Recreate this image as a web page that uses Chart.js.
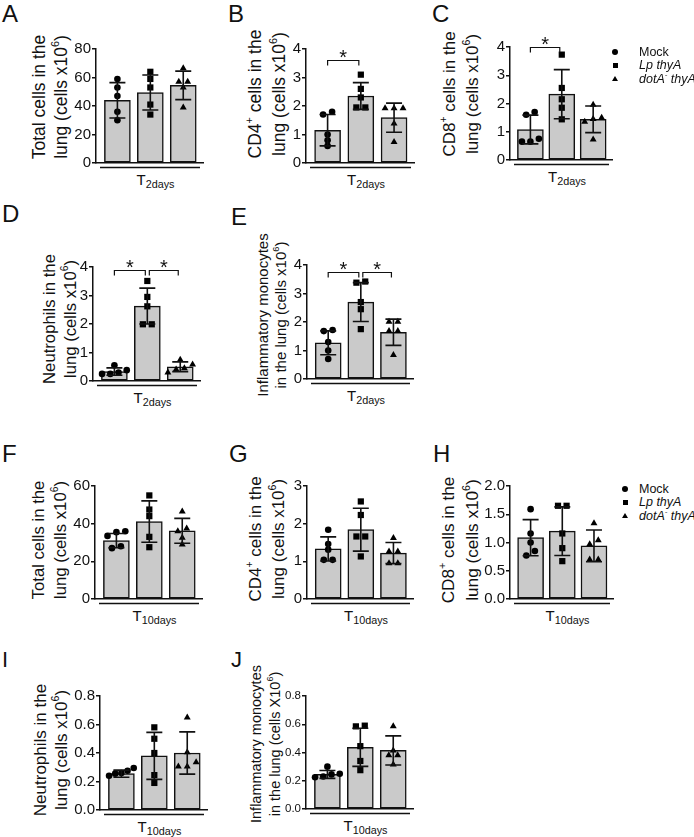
<!DOCTYPE html>
<html>
<head>
<meta charset="utf-8">
<script src="https://cdn.jsdelivr.net/npm/chart.js@4.4.1/dist/chart.umd.min.js"></script>
<style>
body{margin:0;background:#fff;width:694px;height:837px;position:relative;overflow:hidden;font-family:"Liberation Sans",Arial,sans-serif;color:#111}
.letter{position:absolute;line-height:1}
.ytitle{position:absolute;white-space:nowrap;text-align:center;transform:translate(-50%,-50%) rotate(-90deg)}
.sup{font-size:0.62em;position:relative;top:-0.75em}
.sub{font-size:0.72em;position:relative;top:0.28em}
.xlab{position:absolute;font-size:15px;line-height:15px;white-space:nowrap;transform:translateX(-50%)}
.leg{position:absolute;font-size:12.5px;line-height:14px;white-space:nowrap}
.mk{position:absolute;background:#000}
</style>
</head>
<body>
<script>
const FONT = '"Liberation Sans", Arial, sans-serif'
const groups = ['Mock', 'Lp thyA', 'dotA- thyA']
const legendLabels = ['Mock', '<i>Lp thyA</i>', '<i>dotA<span class="sup">-</span> thyA</i>']
const shapes = ['circle', 'rect', 'triangle']
const radii = [3.3, 4.4, 4.0]

// A - total cells, 2 days
const aMock = [59, 53, 47, 36, 30]
const aLp = [64, 59, 53, 41, 34]
const aDot = [66.5, 57, 57, 53, 39]
const aMean = [44, 49.5, 54.5]
const aSd = [12.4, 12.3, 10]

// B - CD4+, 2 days
const bMock = [1.8, 1.7, 1.0, 0.8, 0.6]
const bLp = [3.1, 2.6, 2.3, 1.95, 1.95]
const bDot = [1.92, 1.92, 1.92, 1.39, 0.74]
const bMean = [1.15, 2.35, 1.59]
const bSd = [0.55, 0.47, 0.51]
const bSig = [[0, 1, 3.6]]

// C - CD8+, 2 days
const cMock = [1.7, 1.6, 0.75, 0.65, 0.65]
const cLp = [3.73, 2.55, 2.15, 1.85, 1.44]
const cDot = [1.96, 1.5, 1.45, 1.35, 0.73]
const cMean = [1.08, 2.33, 1.44]
const cSd = [0.51, 0.87, 0.47]
const cSig = [[0, 1, 4.0]]

// D - neutrophils, 2 days
const dMock = [0.55, 0.38, 0.3, 0.25, 0.25]
const dLp = [3.51, 2.95, 2.62, 1.99, 1.99]
const dDot = [0.75, 0.58, 0.45, 0.4, 0.3]
const dMean = [0.33, 2.63, 0.5]
const dSd = [0.13, 0.63, 0.17]
const dSig = [[0, 1, 3.9], [1, 2, 3.9]]

// E - inflammatory monocytes, 2 days
const eMock = [1.72, 1.68, 1.3, 1.0, 0.7]
const eLp = [3.42, 3.38, 2.7, 2.45, 1.75]
const eDot = [2.01, 2.01, 1.68, 1.68, 0.84]
const eMean = [1.27, 2.7, 1.64]
const eSd = [0.42, 0.68, 0.46]
const eSig = [[0, 1, 3.75], [1, 2, 3.75]]

// F - total cells, 10 days
const fMock = [36, 35.5, 33.5, 28, 27]
const fLp = [55, 47.5, 44, 33, 27.5]
const fDot = [46.5, 37.5, 36, 32.5, 29]
const fMean = [31, 41.1, 36.2]
const fSd = [3.8, 11, 6.6]

// G - CD4+, 10 days
const gMock = [1.84, 1.46, 1.31, 1.04, 1.04]
const gLp = [2.59, 2.23, 1.66, 1.66, 1.13]
const gDot = [1.62, 1.26, 1.26, 0.95, 0.95]
const gMean = [1.33, 1.84, 1.22]
const gSd = [0.32, 0.57, 0.28]

// H - CD8+, 10 days
const hMock = [1.59, 1.16, 1.0, 0.85, 0.77]
const hLp = [1.65, 1.65, 1.16, 0.9, 0.67]
const hDot = [1.34, 1.04, 0.97, 0.7, 0.7]
const hMean = [1.085, 1.2, 0.94]
const hSd = [0.32, 0.43, 0.28]

// I - neutrophils, 10 days
const iMock = [0.295, 0.275, 0.26, 0.255, 0.24]
const iLp = [0.58, 0.5, 0.4, 0.245, 0.19]
const iDot = [0.65, 0.405, 0.335, 0.305, 0.305]
const iMean = [0.255, 0.38, 0.4]
const iSd = [0.025, 0.165, 0.148]

// J - inflammatory monocytes, 10 days
const jMock = [0.3, 0.25, 0.245, 0.23, 0.225]
const jLp = [0.59, 0.585, 0.445, 0.34, 0.275]
const jDot = [0.585, 0.415, 0.38, 0.38, 0.315]
const jMean = [0.245, 0.437, 0.415]
const jSd = [0.028, 0.135, 0.103]

const t2 = 'T<span class="sub">2days</span>'
const t10 = 'T<span class="sub">10days</span>'
const x6 = 'x10<span class="sup">6</span>'

const panels = [
    { letter: 'A', lx: 2, ly: 2, lf: 24, x0: 96, x1: 203, top: 49, bottom: 163, max: 80, step: 20, dec: 0, tf: 15,
      pts: [aMock, aLp, aDot], mean: aMean, sd: aSd, sig: [],
      title: ['Total cells in the', 'lung (cells ' + x6 + ')'], tx: 51, ty: 96.5, tfs: 17.5, tlh: 22, xl: t2 },
    { letter: 'B', lx: 228, ly: 2, lf: 24, x0: 306, x1: 414, top: 49, bottom: 163, max: 4, step: 1, dec: 0, tf: 15,
      pts: [bMock, bLp, bDot], mean: bMean, sd: bSd, sig: bSig,
      title: ['CD4<span class="sup">+</span> cells in the', 'lung (cells ' + x6 + ')'], tx: 268, ty: 93.5, tfs: 17.5, tlh: 22, xl: t2 },
    { letter: 'C', lx: 432, ly: 2, lf: 24, x0: 510, x1: 612, top: 47, bottom: 160, max: 4, step: 1, dec: 0, tf: 15,
      pts: [cMock, cLp, cDot], mean: cMean, sd: cSd, sig: cSig,
      title: ['CD8<span class="sup">+</span> cells in the', 'lung (cells ' + x6 + ')'], tx: 462, ty: 94, tfs: 17, tlh: 22, xl: t2 },
    { letter: 'D', lx: 2, ly: 202, lf: 24, x0: 93, x1: 200, top: 267, bottom: 381, max: 4, step: 1, dec: 0, tf: 15,
      pts: [dMock, dLp, dDot], mean: dMean, sd: dSd, sig: dSig,
      title: ['Neutrophils in the', 'lung (cells ' + x6 + ')'], tx: 60.5, ty: 319, tfs: 16.7, tlh: 21, xl: t2 },
    { letter: 'E', lx: 231, ly: 205, lf: 24, x0: 307, x1: 413, top: 265, bottom: 379, max: 4, step: 1, dec: 0, tf: 15,
      pts: [eMock, eLp, eDot], mean: eMean, sd: eSd, sig: eSig,
      title: ['Inflammatory monocytes', 'in the lung (cells ' + x6 + ')'], tx: 273, ty: 315, tfs: 15, tlh: 18, xl: t2 },
    { letter: 'F', lx: 2, ly: 442, lf: 24, x0: 95, x1: 202, top: 486, bottom: 599, max: 60, step: 20, dec: 0, tf: 15,
      pts: [fMock, fLp, fDot], mean: fMean, sd: fSd, sig: [],
      title: ['Total cells in the', 'lung (cells ' + x6 + ')'], tx: 50.5, ty: 540, tfs: 16.7, tlh: 22, xl: t10 },
    { letter: 'G', lx: 229, ly: 442, lf: 24, x0: 307, x1: 413, top: 486, bottom: 599, max: 3, step: 1, dec: 0, tf: 15,
      pts: [gMock, gLp, gDot], mean: gMean, sd: gSd, sig: [],
      title: ['CD4<span class="sup">+</span> cells in the', 'lung (cells ' + x6 + ')'], tx: 268, ty: 539, tfs: 17, tlh: 22, xl: t10 },
    { letter: 'H', lx: 433, ly: 442, lf: 24, x0: 510, x1: 613, top: 486, bottom: 599, max: 2, step: 0.5, dec: 1, tf: 15,
      pts: [hMock, hLp, hDot], mean: hMean, sd: hSd, sig: [],
      title: ['CD8<span class="sup">+</span> cells in the', 'lung (cells ' + x6 + ')'], tx: 461, ty: 540, tfs: 17.2, tlh: 22, xl: t10 },
    { letter: 'I', lx: 2, ly: 649, lf: 22, x0: 100, x1: 207, top: 696, bottom: 810, max: 0.8, step: 0.2, dec: 1, tf: 15,
      pts: [iMock, iLp, iDot], mean: iMean, sd: iSd, sig: [],
      title: ['Neutrophils in the', 'lung (cells ' + x6 + ')'], tx: 52, ty: 750, tfs: 17, tlh: 21, xl: t10 },
    { letter: 'J', lx: 231, ly: 649, lf: 22, x0: 306, x1: 413, top: 696, bottom: 809, max: 0.8, step: 0.2, dec: 1, tf: 11.5,
      pts: [jMock, jLp, jDot], mean: jMean, sd: jSd, sig: [],
      title: ['Inflammatory monocytes', 'in the lung (cells X10<span class="sup">6</span>)'], tx: 267, ty: 744, tfs: 14.5, tlh: 19, xl: t10 }
]

// spread points with similar values side by side, like the scatter in the original
function spread(vals, tol) {
    const idx = vals.map((v, i) => i).sort((a, b) => vals[a] - vals[b])
    const off = vals.map(() => 0)
    let cluster = [idx[0]]
    const flush = () => {
        const n = cluster.length
        const step = n > 1 ? Math.min(0.27, 0.75 / (n - 1)) : 0
        cluster.forEach((j, m) => { off[j] = (m - (n - 1) / 2) * step })
    }
    for (let k = 1; k < idx.length; k++) {
        const prev = cluster[cluster.length - 1]
        if (vals[idx[k]] - vals[prev] < tol) cluster.push(idx[k])
        else { flush(); cluster = [idx[k]] }
    }
    flush()
    return off
}

function extras(p) {
    return {
        id: 'extras',
        afterDatasetsDraw(chart) {
            const { ctx, chartArea: a, scales: { x, y } } = chart
            ctx.save()
            ctx.strokeStyle = '#111'
            ctx.lineWidth = 1.6
            // error bars (SD)
            p.mean.forEach((m, i) => {
                const px = x.getPixelForValue(i)
                const hi = y.getPixelForValue(m + p.sd[i])
                const lo = y.getPixelForValue(m - p.sd[i])
                ctx.beginPath()
                ctx.moveTo(px, hi); ctx.lineTo(px, lo)
                ctx.moveTo(px - 8, hi); ctx.lineTo(px + 8, hi)
                ctx.moveTo(px - 8, lo); ctx.lineTo(px + 8, lo)
                ctx.stroke()
            })
            // group line under the axis
            ctx.lineWidth = 1.5
            ctx.beginPath()
            ctx.moveTo(a.left + 4, a.bottom + 4.5)
            ctx.lineTo(a.right - 3, a.bottom + 4.5)
            ctx.stroke()
            // significance brackets
            ctx.lineWidth = 1.2
            ctx.fillStyle = '#111'
            ctx.font = '20px ' + FONT
            ctx.textAlign = 'center'
            p.sig.forEach(([i, j, v]) => {
                const xa = x.getPixelForValue(i) + (i > 0 ? 2 : 0)
                const xb = x.getPixelForValue(j) - 2
                const py = Math.round(y.getPixelForValue(v)) + 0.5
                ctx.beginPath()
                ctx.moveTo(xa, py + 5); ctx.lineTo(xa, py); ctx.lineTo(xb, py); ctx.lineTo(xb, py + 5)
                ctx.stroke()
                ctx.fillText('*', (xa + xb) / 2, py + 3.5)
            })
            ctx.restore()
        }
    }
}

function makePanel(p) {
    const YW = 45, PT = 18, PR = 6, XH = 12

    const letter = document.createElement('div')
    letter.className = 'letter'
    letter.style.cssText = `left:${p.lx}px;top:${p.ly}px;font-size:${p.lf}px`
    letter.textContent = p.letter
    document.body.appendChild(letter)

    const title = document.createElement('div')
    title.className = 'ytitle'
    title.style.cssText = `left:${p.tx}px;top:${p.ty}px;font-size:${p.tfs}px;line-height:${p.tlh}px`
    title.innerHTML = p.title.join('<br>')
    document.body.appendChild(title)

    const xl = document.createElement('div')
    xl.className = 'xlab'
    xl.style.cssText = `left:${(p.x0 + p.x1) / 2 + 6}px;top:${p.bottom + 8.5}px`
    xl.innerHTML = p.xl
    document.body.appendChild(xl)

    const w = YW + (p.x1 - p.x0) + PR
    const h = PT + (p.bottom - p.top) + XH
    const cv = document.createElement('canvas')
    cv.width = w
    cv.height = h
    cv.style.cssText = `position:absolute;left:${p.x0 - YW}px;top:${p.top - PT}px;width:${w}px;height:${h}px`
    document.body.appendChild(cv)

    const datasets = [{
        type: 'bar',
        label: 'mean',
        data: p.mean.map((m, i) => ({ x: i, y: m })),
        backgroundColor: '#cacaca',
        borderColor: '#111',
        borderWidth: 1.5,
        borderSkipped: false,
        barThickness: 26,
        order: 2
    }]
    p.pts.forEach((vals, g) => {
        const off = spread(vals, p.max * 0.04)
        datasets.push({
            type: 'scatter',
            label: groups[g],
            data: vals.map((v, k) => ({ x: g + off[k], y: v })),
            pointStyle: shapes[g],
            pointRadius: radii[g],
            backgroundColor: '#000',
            borderColor: '#000',
            borderWidth: 0,
            clip: false,
            order: 1
        })
    })

    new Chart(cv, {
        type: 'bar',
        data: { datasets },
        options: {
            responsive: false,
            animation: false,
            layout: { padding: { top: PT, right: PR, left: 0, bottom: 0 } },
            plugins: { legend: { display: false }, tooltip: { enabled: false } },
            scales: {
                x: {
                    type: 'linear', min: -0.65, max: 2.6, offset: false,
                    ticks: { display: false },
                    grid: { display: false },
                    border: { display: true, color: '#111', width: 1.5 },
                    afterFit: s => { s.height = XH }
                },
                y: {
                    min: 0, max: p.max,
                    ticks: {
                        stepSize: p.step, padding: 1, color: '#111',
                        font: { family: FONT, size: p.tf },
                        callback: v => v.toFixed(p.dec)
                    },
                    grid: { drawOnChartArea: false, tickLength: 4, color: '#111', lineWidth: 1.5 },
                    border: { color: '#111', width: 1.5 },
                    afterFit: s => { s.width = YW }
                }
            }
        },
        plugins: [extras(p)]
    })
}

panels.forEach(makePanel)

// legends beside C and H
function makeLegend(rows, markX, textX) {
    rows.forEach((ry, g) => {
        const mk = document.createElement('div')
        mk.className = 'mk'
        if (shapes[g] === 'circle') {
            mk.style.cssText = `left:${markX - 3}px;top:${ry - 3}px;width:6px;height:6px;border-radius:50%`
        } else if (shapes[g] === 'rect') {
            mk.style.cssText = `left:${markX - 2.5}px;top:${ry - 2.5}px;width:5px;height:5px`
        } else {
            mk.style.cssText = `left:${markX - 3}px;top:${ry - 3}px;width:0;height:0;background:none;border-left:3px solid transparent;border-right:3px solid transparent;border-bottom:5.5px solid #000`
        }
        document.body.appendChild(mk)
        const t = document.createElement('div')
        t.className = 'leg'
        t.style.cssText = `left:${textX}px;top:${ry - 7}px`
        t.innerHTML = legendLabels[g]
        document.body.appendChild(t)
    })
}
makeLegend([52, 65, 79], 615, 639)
makeLegend([489, 502, 516], 625, 639)
</script>
</body>
</html>
